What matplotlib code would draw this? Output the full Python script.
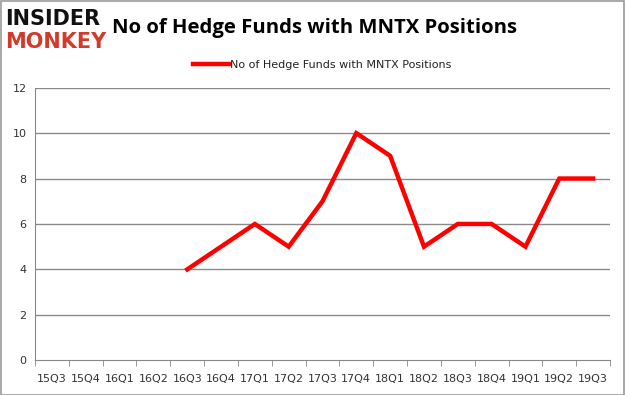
import matplotlib
matplotlib.use("Agg")
import matplotlib.pyplot as plt
import numpy as np

quarters = ["15Q3","15Q4","16Q1","16Q2","16Q3","16Q4","17Q1","17Q2","17Q3",
            "17Q4","18Q1","18Q2","18Q3","18Q4","19Q1","19Q2","19Q3"]
funds = [np.nan, np.nan, np.nan, np.nan, 4, 5, 6, 5, 7, 10, 9, 5, 6, 6, 5, 8, 8]
yticks = [0, 2, 4, 6, 8, 10, 12]
series_label = "No of Hedge Funds with MNTX Positions"
title = "No of Hedge Funds with MNTX Positions"

fig = plt.figure(figsize=(6.25, 3.95), dpi=100)
ax = fig.add_axes([0.056, 0.088, 0.92, 0.69])

x = np.arange(len(quarters)) + 0.5
ax.plot(x, funds, color="#ff0000", lw=3.2, solid_joinstyle="miter")
ax.set_xlim(0, len(quarters))
ax.set_ylim(0, 12)
ax.set_yticks(yticks)
ax.set_yticklabels([str(v) for v in yticks], fontsize=8, color="#333333")
ax.set_xticks(x)
ax.set_xticklabels(quarters, fontsize=8, color="#333333")
ax.set_xticks(np.arange(len(quarters) + 1), minor=True)
ax.tick_params(axis="x", which="major", length=0, pad=10)
ax.tick_params(axis="x", which="minor", length=4, color="#888888")
ax.tick_params(axis="y", length=0, pad=6)
for v in yticks[1:]:
    ax.axhline(v, color="#8a8a8a", lw=1, zorder=0)
for s in ["top", "right"]:
    ax.spines[s].set_visible(False)
ax.spines["left"].set_color("#888888")
ax.spines["bottom"].set_color("#888888")

leg = ax.legend([series_label], loc="lower center", bbox_to_anchor=(0.5, 1.03),
                frameon=False, fontsize=8, handlelength=3.2, handletextpad=0.1)
for t in leg.get_texts():
    t.set_color("#222222")

fig.text(0.18, 0.93, title, fontsize=14.6, fontweight="bold",
         family="Open Sans", va="center", ha="left")
fig.text(0.008, 0.952, "INSIDER", fontsize=15, fontweight="heavy",
         color="#111111", va="center", ha="left", family="DejaVu Sans")
fig.text(0.008, 0.893, "MONKEY", fontsize=15, fontweight="heavy",
         color="#d23a2a", va="center", ha="left", family="DejaVu Sans")

border = plt.Rectangle((0.001, 0.001), 0.997, 0.997, transform=fig.transFigure,
                       fill=False, edgecolor="#999999", lw=1.2)
fig.add_artist(border)

fig.savefig("out.png", dpi=100)
